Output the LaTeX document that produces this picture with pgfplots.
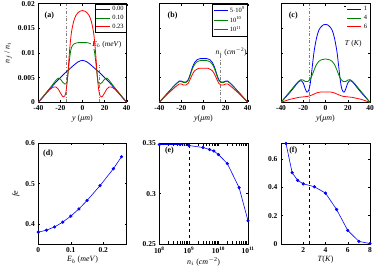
\documentclass[border=0pt]{standalone}
\usepackage{pgfplots}
\pgfplotsset{compat=1.18}
\usepackage{fontspec}
\setmainfont{Liberation Serif}
\definecolor{mgreen}{RGB}{0,128,0}
\pgfplotsset{
  panel/.style={scale only axis, width=88.4bp, tick align=inside,
    /pgf/number format/assume math mode=true,
    tick label style={font=\bfseries\fontsize{7.5}{8}\selectfont},
    label style={font=\fontsize{8}{9}\selectfont},
    axis line style={line width=0.5pt}, every tick/.style={black, line width=0.4pt},
    major tick length=2pt, scaled ticks=false,
    /pgf/number format/fixed},
  toprow/.style={panel, height=98.6bp, xmin=-40, xmax=40, ymin=0, ymax=0.02,
    xtick={-40,-20,0,20,40}, ytick={0,0.005,0.01,0.015,0.02},
    /pgf/number format/precision=3, xlabel style={yshift=3pt},
    legend style={at={(1,1)}, anchor=north east, font=\fontsize{6.5}{7}\selectfont,
      inner sep=0.8pt, row sep=-1.2pt, draw=black, line width=0.4pt},
    legend cell align=left,
    legend image code/.code={\draw[#1] (0bp,0bp) -- (14bp,0bp);}},
  botrow/.style={panel, height=100.3bp, xlabel style={yshift=3pt}},
  curve/.style={smooth, line width=0.8pt},
}
\begin{document}
\begin{tikzpicture}
\useasboundingbox (0,0) rectangle (374bp,276bp);
% (a)
\begin{axis}[toprow, at={(38.3bp,173.7bp)}, anchor=south west,
  xlabel={\textit{y} (\textit{μm})}, ylabel={\textit{n}$_f$\,/\,\textit{n}$_i$}, ylabel style={yshift=-1pt}]
\draw[gray, dash dot, line width=0.4pt] (axis cs:-15,0) -- (axis cs:-15,0.02);
\draw[gray, dash dot, line width=0.4pt] (axis cs:15,0) -- (axis cs:15,0.0075);
\addplot[blue, curve] coordinates {(-40,0) (-36,0.0010) (-32,0.0021) (-28,0.0031) (-24,0.0041) (-20,0.0050) (-16,0.0059) (-12,0.0067) (-8,0.0075) (-4,0.0082) (0,0.0085) (4,0.0082) (8,0.0075) (12,0.0067) (16,0.0059) (20,0.0050) (24,0.0041) (28,0.0031) (32,0.0021) (36,0.0010) (40,0)};
\addplot[mgreen, curve] coordinates {(-40,0) (-36,0.0011) (-32,0.0022) (-28,0.0033) (-26,0.0039) (-24,0.0045) (-22,0.0049) (-20,0.0047) (-18,0.0041) (-16,0.0037) (-15,0.0037) (-14,0.0042) (-13,0.0060) (-12,0.0082) (-11,0.0100) (-10,0.0111) (-8,0.0118) (-6,0.0120) (-4,0.0121) (-2,0.0121) (0,0.0121) (2,0.0121) (4,0.0121) (6,0.0120) (8,0.0118) (10,0.0111) (11,0.0100) (12,0.0082) (13,0.0060) (14,0.0042) (15,0.0037) (16,0.0037) (18,0.0041) (20,0.0047) (22,0.0049) (24,0.0045) (26,0.0039) (28,0.0033) (32,0.0022) (36,0.0011) (40,0)};
\node[fill=white, inner sep=1pt, font=\fontsize{7.5}{8}\selectfont] at (axis cs:22,0.0116) {\textit{E}$_b$ (\textit{meV})};
\addplot[red, curve] coordinates {(-40,0) (-36,0.0010) (-32,0.0020) (-29,0.0027) (-26,0.0031) (-24,0.0031) (-22,0.0027) (-20,0.0019) (-18,0.0012) (-17,0.0011) (-16,0.0013) (-15,0.0021) (-14,0.0038) (-13,0.0065) (-12,0.0096) (-11,0.0122) (-10,0.0142) (-8,0.0164) (-6,0.0176) (-4,0.0182) (-2,0.0185) (0,0.0186) (2,0.0185) (4,0.0182) (6,0.0176) (8,0.0164) (10,0.0142) (11,0.0122) (12,0.0096) (13,0.0065) (14,0.0038) (15,0.0021) (16,0.0013) (17,0.0011) (18,0.0012) (20,0.0019) (22,0.0027) (24,0.0031) (26,0.0031) (29,0.0027) (32,0.0020) (36,0.0010) (40,0)};
\legend{0.00,0.10,0.23}
\node[font=\bfseries\fontsize{8}{9}\selectfont] at (axis cs:-30,0.0175) {(a)};
\end{axis}
% (b)
\begin{axis}[toprow, at={(159.3bp,173.7bp)}, anchor=south west, yticklabels={},
  xlabel={\textit{y}(\textit{μm})}]
\draw[gray, dash dot, line width=0.4pt] (axis cs:15,0) -- (axis cs:15,0.0095);
\addplot[blue, curve] coordinates {(-40,0) (-36,0.0010) (-32,0.0020) (-28,0.0030) (-25,0.0037) (-22,0.0043) (-20,0.0043) (-18,0.0041) (-16,0.0041) (-14,0.0045) (-12,0.0057) (-10,0.0071) (-8,0.0081) (-6,0.0086) (-4,0.0088) (-2,0.0089) (0,0.0089) (2,0.0089) (4,0.0088) (6,0.0086) (8,0.0081) (10,0.0071) (12,0.0057) (14,0.0045) (16,0.0041) (18,0.0041) (20,0.0043) (22,0.0043) (25,0.0037) (28,0.0030) (32,0.0020) (36,0.0010) (40,0)};
\addplot[mgreen, curve] coordinates {(-40,0) (-36,0.0010) (-32,0.0020) (-28,0.0030) (-25,0.0037) (-22,0.0042) (-20,0.0042) (-18,0.0040) (-16,0.0040) (-14,0.0044) (-12,0.0055) (-10,0.0068) (-8,0.0077) (-6,0.0082) (-4,0.0084) (-2,0.0085) (0,0.0085) (2,0.0085) (4,0.0084) (6,0.0082) (8,0.0077) (10,0.0068) (12,0.0055) (14,0.0044) (16,0.0040) (18,0.0040) (20,0.0042) (22,0.0042) (25,0.0037) (28,0.0030) (32,0.0020) (36,0.0010) (40,0)};
\addplot[red, curve] coordinates {(-40,0) (-36,0.0009) (-32,0.0018) (-28,0.0026) (-25,0.0032) (-22,0.0037) (-20,0.0037) (-18,0.0035) (-16,0.0035) (-14,0.0038) (-12,0.0047) (-10,0.0057) (-8,0.0064) (-6,0.0067) (-4,0.0069) (-2,0.0069) (0,0.0069) (2,0.0069) (4,0.0069) (6,0.0067) (8,0.0064) (10,0.0057) (12,0.0047) (14,0.0038) (16,0.0035) (18,0.0035) (20,0.0037) (22,0.0037) (25,0.0032) (28,0.0026) (32,0.0018) (36,0.0009) (40,0)};
\legend{5$\cdot$10\textsuperscript{9},10\textsuperscript{10},10\textsuperscript{11}}
\node[font=\fontsize{7.5}{8}\selectfont] at (axis cs:25,0.0102) {\textit{n}$_i$ (\textit{cm}\textsuperscript{$-$2})};
\node[font=\bfseries\fontsize{8}{9}\selectfont] at (axis cs:-28,0.0175) {(b)};
\end{axis}
% (c)
\begin{axis}[toprow, width=89bp, at={(281bp,173.7bp)}, anchor=south west, yticklabels={},
  xlabel={\textit{y}(\textit{μm})}, legend style={draw=none}]
\draw[gray, dash dot, line width=0.4pt] (axis cs:-15,0) -- (axis cs:-15,0.02);
\addplot[blue, curve] coordinates {(-40,0) (-36,0.0010) (-32,0.0020) (-28,0.0031) (-26,0.0037) (-24,0.0042) (-22,0.0044) (-20,0.0039) (-18,0.0026) (-17,0.0021) (-16,0.0021) (-15,0.0025) (-14,0.0034) (-13,0.0050) (-12,0.0070) (-11,0.0090) (-10,0.0107) (-8,0.0131) (-6,0.0146) (-4,0.0153) (-2,0.0157) (0,0.0158) (2,0.0157) (4,0.0153) (6,0.0146) (8,0.0131) (10,0.0107) (11,0.0090) (12,0.0070) (13,0.0050) (14,0.0034) (15,0.0025) (16,0.0021) (17,0.0021) (18,0.0026) (20,0.0039) (22,0.0044) (24,0.0042) (26,0.0037) (28,0.0031) (32,0.0020) (36,0.0010) (40,0)};
\addplot[mgreen, curve] coordinates {(-40,0) (-36,0.0011) (-32,0.0022) (-28,0.0033) (-25,0.0041) (-22,0.0046) (-20,0.0045) (-18,0.0042) (-16,0.0042) (-14,0.0046) (-12,0.0055) (-10,0.0067) (-8,0.0077) (-6,0.0083) (-4,0.0086) (-2,0.0087) (0,0.0088) (2,0.0087) (4,0.0086) (6,0.0083) (8,0.0077) (10,0.0067) (12,0.0055) (14,0.0046) (16,0.0042) (18,0.0042) (20,0.0045) (22,0.0046) (25,0.0041) (28,0.0033) (32,0.0022) (36,0.0011) (40,0)};
\addplot[red, curve] coordinates {(-40,0) (-36,0.0003) (-32,0.0006) (-28,0.0008) (-24,0.0010) (-20,0.0011) (-16,0.0012) (-12,0.0015) (-8,0.0019) (-4,0.0021) (0,0.0021) (4,0.0021) (8,0.0019) (12,0.0015) (16,0.0012) (20,0.0011) (24,0.0010) (28,0.0008) (32,0.0006) (36,0.0003) (40,0)};
\legend{1,4,6}
\draw[black, line width=0.4pt] (axis cs:17,0.0195) -- (axis cs:40,0.0195);
\node[font=\fontsize{7.5}{8}\selectfont] at (axis cs:25,0.0118) {\textit{T} (\textit{K})};
\node[font=\bfseries\fontsize{8}{9}\selectfont] at (axis cs:-29,0.0175) {(c)};
\end{axis}
% (d)
\begin{axis}[botrow, at={(38.3bp,32.2bp)}, anchor=south west,
  xmin=0, xmax=0.272, ymin=0.35, ymax=0.6, xtick={0,0.1,0.2}, ytick={0.4,0.5,0.6},
  /pgf/number format/precision=2,
  xlabel={\textit{E}$_b$ (\textit{meV})}, ylabel={\textit{fe}}, ylabel style={yshift=-1pt}]
\addplot[blue, line width=0.6pt, mark=*, mark size=1.3pt] coordinates {(0,0.379) (0.025,0.384) (0.05,0.392) (0.075,0.404) (0.1,0.419) (0.125,0.437) (0.15,0.458) (0.19,0.495) (0.231,0.537) (0.256,0.567)};
\node[font=\bfseries\fontsize{8}{9}\selectfont] at (axis cs:0.03,0.575) {(d)};
\end{axis}
% (e)
\begin{axis}[botrow, xmode=log, at={(159.3bp,32.2bp)}, anchor=south west, width=88.7bp,
  xmin=1e8, xmax=1e11, ymin=0.25, ymax=0.35, ytick={0.25,0.3,0.35},
  xtick={1e8,1e9,1e10,1e11}, xticklabels={10\textsuperscript{8},10\textsuperscript{9},10\textsuperscript{10},10\textsuperscript{11}},
  minor xtick={}, /pgf/number format/precision=2,
  xlabel={\textit{n}$_i$ (\textit{cm}\textsuperscript{$-$2})}]
\draw[black, dashed, line width=0.6pt] (axis cs:1e9,0.25) -- (axis cs:1e9,0.35);
\addplot[blue, line width=0.6pt, mark=*, mark size=1.3pt] coordinates {(1e8,0.349) (5e8,0.349) (1e9,0.348) (3e9,0.346) (5e9,0.344) (7e9,0.3425) (1e10,0.339) (2e10,0.330) (5e10,0.306) (1e11,0.273)};
\node[font=\bfseries\fontsize{8}{9}\selectfont] at (axis cs:2.2e8,0.3425) {(e)};
\end{axis}
% (f)
\begin{axis}[botrow, width=89bp, at={(281bp,32.2bp)}, anchor=south west,
  xmin=0, xmax=8, ymin=0, ymax=0.712, xtick={2,4,6,8}, ytick={0,0.2,0.4,0.6},
  /pgf/number format/precision=1,
  xlabel={\textit{T}(\textit{K})}]
\draw[black, dashed, line width=0.6pt] (axis cs:2.5,0) -- (axis cs:2.5,0.712);
\addplot[blue, line width=0.6pt, mark=*, mark size=1.3pt] coordinates {(0.45,0.712) (1,0.505) (1.5,0.45) (2,0.426) (3,0.405) (4,0.36) (5,0.243) (6,0.095) (7,0.017) (8,0.002)};
\node[font=\bfseries\fontsize{8}{9}\selectfont] at (axis cs:1.1,0.66) {(f)};
\end{axis}
\end{tikzpicture}
\end{document}
